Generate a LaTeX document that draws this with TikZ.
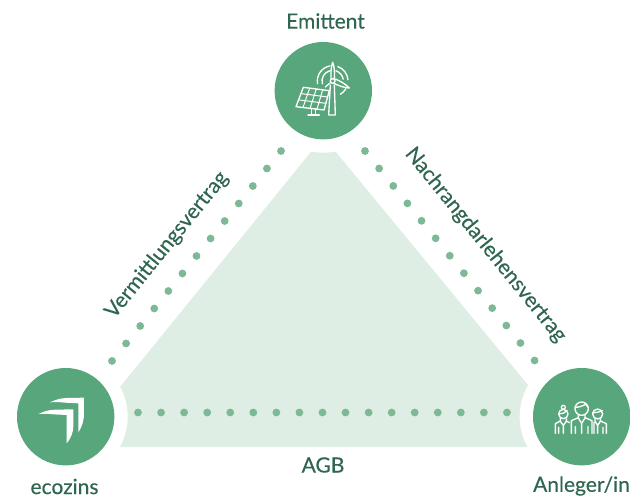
\documentclass[tikz,border=0pt]{standalone}
\usepackage{fontspec}
\setmainfont{Lato}[FakeBold=0.3]
\definecolor{circ}{HTML}{58A67C}
\definecolor{dotc}{HTML}{7DB897}
\definecolor{tri}{HTML}{DEEEE4}
\definecolor{txt}{HTML}{2F6650}
\tikzset{
  hub/.style={circle,fill=circ,minimum size=97.4pt,inner sep=0pt},
  halo/.style={circle,fill=white,minimum size=124pt,inner sep=0pt},
  lab/.style={text=txt,font=\fontsize{21}{24}\selectfont,inner sep=0pt},
  dotsA/.style={draw=dotc,line width=7.8pt,line cap=round,dash pattern=on 0pt off 22.46pt},
  dotsB/.style={draw=dotc,line width=7.8pt,line cap=round,dash pattern=on 0pt off 23.06pt},
  ico/.style={draw=white,line width=1.35pt,line join=round,line cap=round},
}
\begin{document}
\begin{tikzpicture}[x=1pt,y=-1pt]
\useasboundingbox (0,0) rectangle (630,496);
\fill[tri] (323.3,136.7) -- (120,387) -- (120,447) -- (528,447) -- (528,385) -- cycle;
\node[halo] at (323.3,90.7) {};
\node[halo] at (65.7,416.7) {};
\node[halo] at (581.7,416.7) {};
\coordinate (tlA) at (281,151); \coordinate (tlB) at (112,361);
\coordinate (trA) at (365,151); \coordinate (trB) at (535,361);
\coordinate (bA) at (138,412.5); \coordinate (bB) at (507,412.5);
\draw[dotsA] (tlA) -- (tlB);
\draw[dotsA] (trA) -- (trB);
\draw[dotsB] (bA) -- (bB);
\node[hub] (em) at (323.3,90.7) {};
\node[hub] (eco) at (65.7,416.7) {};
\node[hub] (an) at (581.7,416.7) {};
\node[lab] at (325.5,21) {Emittent};
\node[lab] at (64.5,486.5) {ecozins};
\node[lab] at (581.5,486) {Anleger/in};
\node[lab] at (323,465) {AGB};
\node[lab,rotate=51] at (167,245) {Vermittlungsvertrag};
\node[lab,rotate=-51] at (485.5,245) {Nachrangdarlehensvertrag};
% ecozins mark
\begin{scope}[shift={(0,350)},x=0.3333pt,y=-0.3333pt]
\fill[white] (150,157) .. controls (170,148) and (180,145) .. (200,144) -- (252,143) -- (252,190) .. controls (252,215) and (245,232) .. (235,247) -- (235,160) -- (195,158) .. controls (180,156) and (165,156) .. (150,157) -- cycle;
\fill[white] (115,192) .. controls (135,183) and (145,180) .. (165,179) -- (220,178) -- (220,225) .. controls (220,250) and (212,265) .. (200,280) -- (200,195) -- (160,193) .. controls (145,191) and (130,191) .. (115,192) -- cycle;
\end{scope}
% solar panel and wind turbine
\begin{scope}[shift={(290,55)},x=0.3333pt,y=-0.3333pt]
\coordinate (wt) at (128,78);
\draw[ico] (wt) ++(-195:32) arc[start angle=-195,end angle=-105,radius=32];
\draw[ico] (wt) ++(-190:46) arc[start angle=-190,end angle=-100,radius=46];
\draw[ico] (wt) ++(-72:32) arc[start angle=-72,end angle=-10,radius=32];
\draw[ico] (wt) ++(-70:46) arc[start angle=-70,end angle=-5,radius=46];
\draw[ico] (wt) ++(30:46) arc[start angle=30,end angle=60,radius=46];
\draw[ico,fill=circ] (40,97) -- (118,107) -- (102,165) -- (18,155) -- cycle;
\draw[ico,line width=1pt] (35,116) -- (113,126) (29,135) -- (108,145);
\draw[ico,line width=1pt] (59,99.5) -- (39,157.5) (79,102) -- (60,160) (98,104.5) -- (81,162.5);
\draw[ico] (64,161) -- (64,180) (76,162) -- (76,180) (54,180) -- (88,180);
\draw[ico,fill=circ] (121,90) -- (116,180) -- (136,180) -- (133,90);
\draw[ico,fill=circ] (136,72) .. controls (150,78) and (168,88) .. (178,99) .. controls (165,99) and (145,92) .. (132,85);
\draw[ico,fill=circ] (120,84) -- (106,96);
\draw[ico,fill=circ] (123,70) .. controls (122,50) and (124,32) .. (128,22) .. controls (132,32) and (135,50) .. (133,70);
\draw[ico,fill=circ] (wt) circle (7);
\end{scope}
% people
\begin{scope}[shift={(545,390)},x=0.3333pt,y=-0.3333pt]
\draw[ico] (55,72) circle (14);
\draw[ico] (55,52) circle (6);
\draw[ico] (42,72) .. controls (52,72) and (60,68) .. (66,62);
\draw[ico] (46,86) -- (46,93) -- (31,101) -- (31,130) (64,86) -- (64,93) -- (73,98);
\draw[ico] (46,94) -- (55,106) -- (64,94) (55,106) -- (55,130) (41,112) -- (41,130);
\draw[ico] (110,56) circle (20);
\draw[ico] (90,52) .. controls (100,52) and (115,48) .. (122,42) .. controls (124,48) and (128,50) .. (130,52);
\draw[ico] (100,74) -- (100,83) -- (79,92) -- (79,130) (120,74) -- (120,83) -- (141,92) -- (141,130);
\draw[ico] (100,84) -- (110,100) -- (120,84) (110,100) -- (110,130) (91,110) -- (91,130) (129,110) -- (129,130);
\draw[ico] (158,72) circle (15);
\draw[ico] (143,68) .. controls (152,68) and (165,66) .. (172,62);
\draw[ico] (150,86) -- (150,93) (166,86) -- (166,93) -- (184,101) -- (184,130);
\draw[ico] (150,94) -- (158,106) -- (166,94) (158,106) -- (158,130) (174,112) -- (174,130) (147,97) -- (147,130);
\end{scope}
\end{tikzpicture}
\end{document}
